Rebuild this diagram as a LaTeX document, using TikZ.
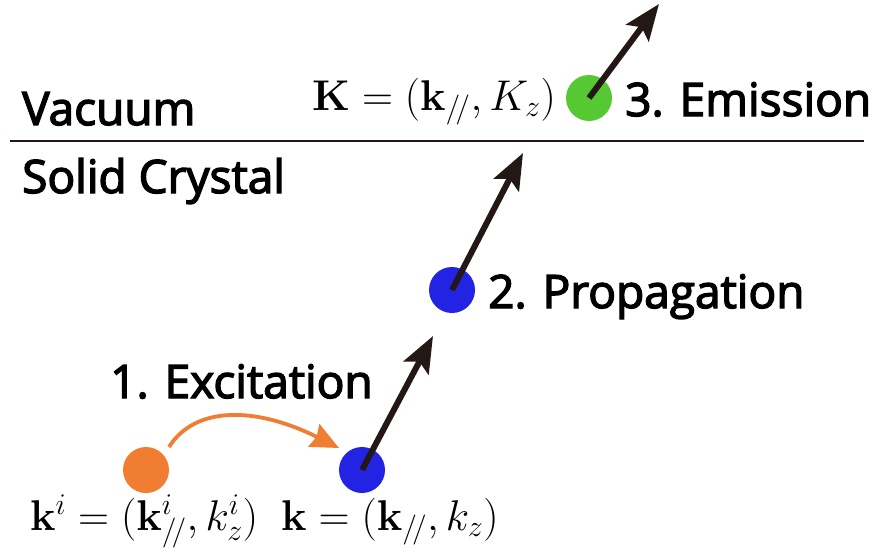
\documentclass[tikz,border=0pt]{standalone}
\usepackage{fix-cm}
\usepackage[no-math]{fontspec}
\setmainfont[FakeBold=3]{Open Sans}
\usetikzlibrary{arrows.meta}
\definecolor{dotorange}{RGB}{240,125,50}
\definecolor{dotblue}{RGB}{35,35,228}
\definecolor{dotgreen}{RGB}{85,200,50}
\definecolor{arrowblack}{RGB}{35,24,21}
\tikzset{
  dot/.style={circle, inner sep=0pt, minimum size=46pt},
  lbl/.style={anchor=base west, inner sep=0pt, font=\fontsize{46}{50}\selectfont},
  mth/.style={anchor=base west, inner sep=0pt, font=\fontsize{43}{48}\selectfont},
  bigarrow/.style={arrowblack, line width=6pt, -{Stealth[length=36pt,width=28pt,inset=7pt]}},
}
\DeclareMathSizes{43}{43}{30}{22}
\newcommand{\parsym}{{/\!/}}
\begin{document}
\begin{tikzpicture}[x=1pt,y=-1pt]
\useasboundingbox (0,0) rectangle (879,557);
% interface
\coordinate (lineL) at (10,141);
\coordinate (lineR) at (864,141);
\draw[arrowblack, line width=2.5pt] (lineL) -- (lineR);
\node[lbl] (vac) at (22,125) {Vacuum};
\node[lbl] (sol) at (22,193) {Solid Crystal};
% dots
\node[dot, fill=dotorange] (d0) at (146,470) {};
\node[dot, fill=dotblue] (d1) at (362,470) {};
\node[dot, fill=dotblue] (d2) at (452,290) {};
\node[dot, fill=dotgreen] (d3) at (589,98) {};
% arrow tips
\coordinate (t1) at (433,336);
\coordinate (t2) at (523,153);
\coordinate (t3) at (659,4);
\draw[bigarrow] (d1.center) -- (t1);
\draw[bigarrow] (d2.center) -- (t2);
\draw[bigarrow] (d3.center) -- (t3);
% excitation arrow
\coordinate (e0) at (169,447);
\coordinate (e1) at (339,448);
\draw[dotorange, line width=3.8pt, -{Stealth[length=28pt,width=25pt,inset=3pt]}]
  (e0) .. controls (195,406) and (255,406) .. (e1);
% labels
\node[lbl] (l1) at (110,398) {1. Excitation};
\node[lbl] (l2) at (488,308) {2. Propagation};
\node[lbl] (l3) at (625,116) {3. Emission};
\node[mth] (m3) at (312,110) {$\mathbf{K}=(\mathbf{k}_{\parsym},K_z)$};
\node[mth] (m0) at (30,530) {$\mathbf{k}^i=(\mathbf{k}^i_{\parsym},k^i_z)$};
\node[mth] (m1) at (281,530) {$\mathbf{k}=(\mathbf{k}_{\parsym},k_z)$};
\end{tikzpicture}
\end{document}
